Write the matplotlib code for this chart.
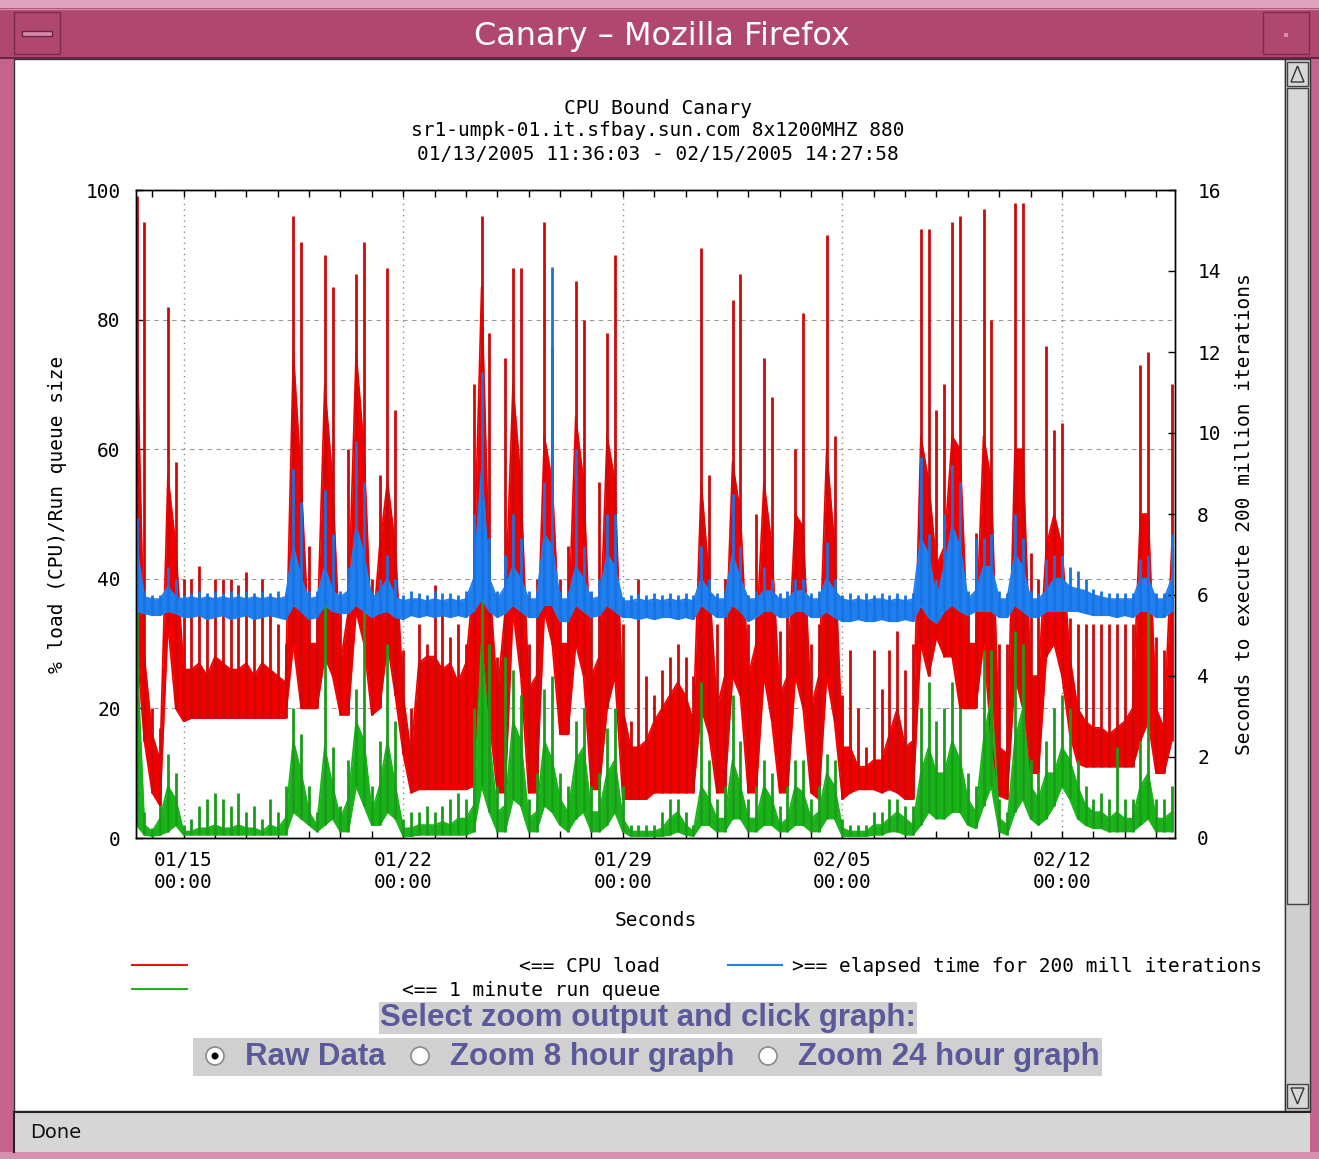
import numpy as np
import matplotlib.pyplot as plt
import matplotlib.dates as mdates
from matplotlib.patches import Rectangle, Circle, Polygon
from matplotlib.ticker import FixedLocator

plt.rcParams['font.family'] = 'DejaVu Sans Mono'
plt.rcParams['font.size'] = 14

# values in 6 hour bins, first bin centred on 01/13 12:00
# each series: bottom of the trace, top of the solid mass, highest spike

# CPU load (%)
cpu_low = [30, 15, 7, 5, 33, 20, 18, 18.5, 18.5, 18.5,
           18.5, 18.5, 18.5, 18.5, 18.5, 18.5, 18.5, 18.5, 18.5, 18.5,
           30, 20, 20, 20, 28, 25, 19, 19, 35, 30,
           19, 20, 30, 22, 13, 7, 7.5, 7.5, 7.5, 7.5,
           7.5, 7.5, 7.5, 8, 30, 18, 7, 7, 35, 25,
           7, 7, 35, 30, 16, 16, 30, 25, 7.5, 7.5,
           20, 25, 6, 6, 6, 6, 7, 7, 7, 7,
           7, 7, 20, 16, 7, 7, 25, 22, 7, 7,
           25, 18, 7, 7, 25, 20, 7, 6, 25, 18,
           6, 7, 7.5, 7.5, 7.5, 7, 7.5, 7, 6, 6,
           30, 25, 31, 28, 28, 20, 20, 20, 30, 15,
           6.5, 6, 25, 20, 10, 10, 28, 30, 25, 16,
           11.5, 11, 11, 11, 11, 11, 11, 11, 15, 18,
           10, 10, 15]
cpu_band = [80, 28, 16, 12, 56, 45, 26, 26, 27, 25,
            28, 27, 26, 26, 27, 25, 27, 26, 25, 24,
            75, 55, 30, 30, 70, 55, 27, 35, 75, 60,
            30, 45, 55, 45, 22, 13, 27, 28, 28, 26,
            27, 24, 27, 40, 85, 40, 22, 35, 70, 55,
            23, 25, 62, 55, 30, 30, 65, 55, 25, 28,
            62, 55, 20, 14, 14, 15, 18, 20, 22, 24,
            22, 18, 55, 40, 20, 25, 58, 50, 25, 30,
            55, 45, 22, 25, 50, 48, 20, 25, 60, 45,
            14, 14, 11, 11, 12, 12, 16, 20, 14, 15,
            62, 55, 42, 45, 62, 60, 30, 30, 62, 55,
            14, 13, 60, 60, 25, 25, 45, 50, 45, 28,
            20, 18, 17, 17, 16, 17, 18, 20, 50, 50,
            20, 17, 45]
cpu_peak = [99, 95, 20, 17, 82, 58, 40, 40, 42, 35,
            40, 40, 40, 39, 41, 36, 40, 36, 33, 30,
            96, 92, 45, 36, 90, 85, 35, 60, 87, 92,
            40, 56, 88, 66, 29, 20, 33, 30, 39, 35,
            31, 33, 30, 70, 96, 78, 28, 74, 88, 88,
            30, 40, 95, 76, 40, 45, 86, 80, 38, 55,
            78, 90, 33, 18, 40, 25, 22, 26, 28, 30,
            28, 25, 91, 56, 33, 40, 83, 87, 33, 50,
            74, 68, 32, 35, 60, 81, 30, 33, 93, 62,
            22, 29, 20, 14, 29, 23, 29, 32, 26, 30,
            94, 94, 66, 70, 95, 96, 36, 47, 97, 80,
            30, 30, 98, 98, 44, 40, 76, 63, 64, 34,
            33, 33, 33, 33, 33, 33, 33, 33, 73, 75,
            31, 29, 70]

# 1 minute run queue
queue_low = [2, 0.5, 0.3, 0.5, 1, 2, 0.5, 0.5, 0.5, 0.5,
             0.5, 0.5, 0.5, 0.5, 0.5, 0.5, 0.5, 0.5, 0.5, 0.5,
             4, 3, 2, 1, 2, 3, 1, 1, 8, 5,
             2, 2, 4, 3, 0.3, 0.3, 0.5, 0.5, 0.5, 0.5,
             0.5, 0.5, 0.5, 1, 8, 4, 1, 1, 6, 5,
             1, 1, 5, 4, 2, 1, 3, 4, 1, 1,
             2, 4, 1, 0.3, 0.3, 0.3, 0.3, 0.3, 0.5, 1,
             0.5, 0.3, 2, 2, 1, 1, 3, 3, 1, 1,
             2, 2, 1, 1, 2, 2, 1, 1, 3, 3,
             0.3, 0.3, 0.3, 0.3, 0.5, 0.5, 1, 1, 0.5, 0.5,
             2, 4, 3, 3, 4, 4, 2, 1.5, 5, 8,
             1, 0.5, 4, 6, 3, 2, 3, 5, 8, 6,
             3, 2, 1.5, 1.5, 1, 1, 1, 1, 2, 3,
             1, 1, 1]
queue_band = [30, 2, 1, 3, 8, 6, 1, 1, 1.5, 1.5,
              2, 1.5, 1.5, 2, 1.5, 1.5, 1, 2, 1.5, 3,
              15, 10, 4, 2, 14, 8, 3, 6, 18, 15,
              4, 8, 15, 8, 1.5, 1.5, 2, 2, 2, 2.5,
              2, 3, 3, 5, 30, 15, 4, 5, 18, 15,
              3, 4, 15, 12, 6, 4, 12, 14, 4, 4,
              10, 12, 3, 1, 1, 1, 1, 1.5, 3, 4,
              2, 1, 8, 6, 3, 3, 12, 8, 3, 3,
              8, 6, 2, 3, 8, 7, 3, 4, 10, 8,
              1.5, 1, 1, 1, 2, 2, 3, 4, 3, 2,
              10, 14, 10, 10, 15, 12, 6, 4, 15, 22,
              3, 2, 15, 20, 8, 6, 10, 10, 14, 12,
              8, 5, 4, 4, 3, 4, 3, 3, 8, 10,
              3, 3, 4]
queue_peak = [37, 4, 1.5, 5, 13, 10, 2, 3, 5, 6,
              7, 6, 5, 7, 4, 5, 3, 6, 4, 8,
              20, 16, 8, 4, 37, 14, 5, 12, 23, 37,
              8, 15, 30, 18, 3, 4, 4, 5, 4, 5,
              6, 7, 6, 20, 37, 30, 8, 28, 26, 22,
              6, 10, 23, 25, 10, 8, 18, 20, 8, 10,
              17, 20, 8, 2, 2, 2, 2, 4, 6, 6,
              4, 2, 24, 12, 6, 8, 22, 15, 6, 8,
              12, 10, 5, 8, 12, 12, 6, 8, 13, 12,
              3, 2, 2, 2, 4, 4, 6, 6, 5, 5,
              20, 24, 18, 20, 24, 20, 10, 8, 29, 29,
              6, 4, 32, 30, 12, 10, 15, 20, 22, 20,
              12, 8, 6, 7, 6, 14, 6, 6, 15, 36,
              6, 6, 8]

# seconds for 200 million iterations
elapsed_low = [5.6, 5.55, 5.5, 5.5, 5.6, 5.55, 5.45, 5.45, 5.5, 5.4,
               5.45, 5.5, 5.4, 5.45, 5.5, 5.4, 5.45, 5.5, 5.45, 5.4,
               5.75, 5.6, 5.4, 5.45, 5.75, 5.6, 5.55, 5.55, 5.75, 5.6,
               5.45, 5.55, 5.6, 5.45, 5.4, 5.5, 5.45, 5.5, 5.45, 5.5,
               5.45, 5.5, 5.45, 5.6, 5.9, 5.6, 5.45, 5.55, 5.75, 5.6,
               5.45, 5.45, 5.75, 5.75, 5.35, 5.35, 5.75, 5.6, 5.45, 5.5,
               5.75, 5.6, 5.45, 5.45, 5.4, 5.45, 5.4, 5.45, 5.45, 5.4,
               5.45, 5.4, 5.75, 5.6, 5.45, 5.45, 5.75, 5.6, 5.35, 5.45,
               5.6, 5.6, 5.45, 5.45, 5.6, 5.6, 5.45, 5.45, 5.6, 5.45,
               5.35, 5.35, 5.4, 5.35, 5.35, 5.4, 5.35, 5.35, 5.4, 5.35,
               5.75, 5.45, 5.3, 5.6, 5.75, 5.6, 5.5, 5.6, 5.6, 5.6,
               5.45, 5.45, 5.75, 5.6, 5.45, 5.45, 5.6, 5.6, 5.6, 5.6,
               5.6, 5.55, 5.5, 5.5, 5.5, 5.45, 5.5, 5.45, 5.6, 5.6,
               5.45, 5.45, 5.6]
elapsed_band = [7.2, 5.95, 5.9, 5.9, 6.2, 5.95, 5.9, 5.95, 5.9, 5.95,
                5.9, 5.95, 5.9, 5.95, 5.9, 5.95, 5.9, 5.95, 5.9, 5.95,
                7.2, 6.4, 5.9, 5.95, 6.7, 6.1, 5.95, 6.1, 7.7, 7.0,
                5.9, 6.1, 6.4, 5.95, 5.85, 5.9, 5.9, 5.85, 5.9, 5.85,
                5.9, 5.85, 5.9, 6.4, 9.1, 6.4, 5.9, 6.2, 6.7, 6.4,
                5.9, 5.9, 7.5, 7.2, 5.9, 5.9, 6.7, 6.4, 5.9, 5.95,
                7.0, 6.7, 5.85, 5.85, 5.9, 5.85, 5.9, 5.85, 5.9, 5.85,
                5.9, 5.85, 6.4, 6.1, 5.9, 5.9, 7.0, 6.4, 5.9, 5.9,
                6.1, 6.1, 5.9, 5.9, 6.1, 6.1, 5.9, 5.9, 6.4, 6.1,
                5.9, 5.85, 5.9, 5.85, 5.9, 5.9, 5.85, 5.9, 5.85, 5.9,
                7.4, 7.0, 5.9, 6.7, 7.7, 7.2, 5.9, 6.1, 6.7, 6.7,
                5.9, 5.9, 7.0, 6.7, 5.9, 5.9, 6.1, 6.4, 6.4, 6.2,
                6.15, 6.1, 6.0, 5.95, 5.9, 5.9, 5.9, 5.9, 6.4, 6.4,
                5.9, 5.9, 6.4]
elapsed_peak = [7.9, 6.1, 6.0, 6.0, 6.7, 6.4, 6.0, 6.05, 6.1, 6.05,
                6.1, 6.05, 6.1, 6.05, 6.1, 6.05, 6.1, 6.05, 6.1, 6.05,
                9.1, 8.3, 6.1, 6.1, 8.6, 7.5, 6.1, 6.7, 9.8, 8.8,
                6.1, 6.4, 7.0, 6.4, 6.0, 6.1, 6.05, 6.0, 6.1, 6.05,
                6.05, 6.0, 6.1, 8.0, 11.5, 7.4, 6.1, 7.0, 8.0, 7.4,
                6.1, 6.1, 8.8, 14.1, 6.1, 6.1, 9.6, 7.2, 6.1, 6.4,
                8.0, 8.0, 5.95, 6.0, 6.05, 6.0, 6.05, 6.0, 6.05, 6.0,
                6.05, 6.0, 7.2, 6.4, 6.05, 6.1, 8.5, 7.2, 6.0, 6.1,
                6.7, 6.4, 6.05, 6.1, 6.4, 6.4, 6.05, 6.1, 7.3, 6.4,
                6.0, 6.05, 6.0, 6.05, 6.0, 6.05, 6.0, 6.05, 6.0, 6.05,
                9.4, 7.5, 6.4, 8.0, 9.2, 8.8, 6.1, 7.4, 7.4, 7.5,
                6.1, 6.05, 8.0, 7.4, 6.1, 6.05, 6.9, 7.0, 7.0, 6.7,
                6.6, 6.4, 6.15, 6.1, 6.05, 6.05, 6.05, 6.05, 6.9, 7.0,
                6.05, 6.05, 7.5]

t = np.datetime64('2005-01-13T12:00') + np.arange(len(cpu_low)) * np.timedelta64(6, 'h')
week_ticks = ['2005-01-15', '2005-01-22', '2005-01-29', '2005-02-05', '2005-02-12']

W, H = 1319, 1159
fig = plt.figure(figsize=(W / 100, H / 100), dpi=100)
fig.patch.set_facecolor('#c4648e')

# browser window drawn in pixel coordinates
bg = fig.add_axes([0, 0, 1, 1], zorder=-1)
bg.set_xlim(0, W)
bg.set_ylim(H, 0)
bg.axis('off')
bg.add_patch(Rectangle((0, 0), W, 8, fc='#e0a4c0', ec='none'))
bg.add_patch(Rectangle((0, 8), W, 50, fc='#b0476f', ec='none'))
bg.plot([0, W], [9, 9], color='#d88aac', lw=1)
bg.plot([0, W], [58, 58], color='#6e2444', lw=1.5)
for bx in (14, 1263):
    bg.add_patch(Rectangle((bx, 12), 46, 42, fc='#b0476f', ec='#7c2c50', lw=1))
bg.add_patch(Rectangle((22, 31), 30, 5, fc='#d88aac', ec='#6e2444', lw=1))
bg.add_patch(Rectangle((1284, 33), 4, 4, fc='#d88aac', ec='none'))
bg.text(662, 36, 'Canary \u2013 Mozilla Firefox', color='white', ha='center', va='center',
        family='DejaVu Sans', fontsize=23)

bg.add_patch(Rectangle((14, 59), 1271, 1052, fc='white', ec='#333333', lw=1))
bg.add_patch(Rectangle((1285, 59), 25, 1052, fc='#cfcfcf', ec='#333333', lw=1))
bg.add_patch(Rectangle((1287, 62), 21, 24, fc='#d8d8d8', ec='#444444', lw=1))
bg.add_patch(Polygon([(1291, 82), (1297.5, 66), (1304, 82)], closed=True, fc='none', ec='#333333', lw=1))
bg.add_patch(Rectangle((1287, 88), 21, 816, fc='#d8d8d8', ec='#444444', lw=1))
bg.add_patch(Rectangle((1287, 1084), 21, 24, fc='#d8d8d8', ec='#444444', lw=1))
bg.add_patch(Polygon([(1291, 1088), (1297.5, 1104), (1304, 1088)], closed=True, fc='none', ec='#333333', lw=1))

bg.add_patch(Rectangle((14, 1112), 1296, 40, fc='#d6d6d6', ec='none'))
bg.plot([14, 1310], [1112, 1112], color='#222222', lw=1.5)
bg.plot([14, 14], [1112, 1152], color='#222222', lw=1.5)
bg.add_patch(Rectangle((0, 1152), W, 7, fc='#d890b0', ec='none'))
bg.text(30, 1133, 'Done', ha='left', va='center', family='DejaVu Sans', fontsize=14, color='#111111')

# chart titles
for y, line in [(108, 'CPU Bound Canary'),
                (131, 'sr1-umpk-01.it.sfbay.sun.com 8x1200MHZ 880'),
                (155, '01/13/2005 11:36:03 - 02/15/2005 14:27:58')]:
    bg.text(658, y, line, ha='center', va='center')

# legend
bg.plot([132, 187], [965, 965], color='#ee1010', lw=1.5)
bg.plot([132, 187], [989, 989], color='#20b020', lw=1.5)
bg.plot([728, 782], [965, 965], color='#2080e8', lw=1.5)
bg.text(660, 966, '<== CPU load', ha='right', va='center')
bg.text(660, 990, '<== 1 minute run queue', ha='right', va='center')
bg.text(792, 966, '>== elapsed time for 200 mill iterations', ha='left', va='center')

# zoom form
form = dict(family='Liberation Sans', fontweight='bold', fontsize=22.5, color='#5a5a9a')
bg.text(648, 1018, 'Select zoom output and click graph:', ha='center', va='center',
        bbox=dict(fc='#d0d0d0', ec='none', pad=1.0), **form)
bg.add_patch(Rectangle((193, 1038), 909, 38, fc='#d0d0d0', ec='none'))
for cx, tx, label in [(215, 245, 'Raw Data'), (420, 450, 'Zoom 8 hour graph'),
                      (768, 798, 'Zoom 24 hour graph')]:
    bg.add_patch(Circle((cx, 1056), 9, fc='white', ec='#8a8a8a', lw=1.2))
    bg.text(tx, 1057, label, ha='left', va='center', **form)
bg.add_patch(Circle((215, 1056), 3.5, fc='black', ec='none'))

# chart
ax = fig.add_axes([136 / W, 1 - 838 / H, 1039 / W, 648 / H])
ax.set_facecolor('white')
ax.set_axisbelow(True)


def draw(axis, low, mid, top, fill, edge):
    axis.fill_between(t, low, mid, color=fill, lw=0)
    axis.plot(t, low, color=fill, lw=1.2)
    axis.plot(t, mid, color=fill, lw=1.2)
    axis.vlines(t, low, top, color=edge, lw=2)


draw(ax, cpu_low, cpu_band, cpu_peak, '#f20000', '#cc0a0a')
draw(ax, queue_low, queue_band, queue_peak, '#18b418', '#1c9c1c')

ax2 = ax.twinx()
draw(ax2, elapsed_low, elapsed_band, elapsed_peak, '#1e80f0', '#1a72e0')

ax.set_xlim(np.datetime64('2005-01-13T11:36:03'), np.datetime64('2005-02-15T14:27:58'))
ax.set_ylim(0, 100)
ax2.set_ylim(0, 16)
ax.set_yticks(range(0, 101, 20))
ax2.set_yticks(range(0, 17, 2))

ax.xaxis.set_major_locator(FixedLocator(mdates.date2num(np.array(week_ticks, dtype='datetime64[s]'))))
ax.xaxis.set_major_formatter(mdates.DateFormatter('%m/%d\n%H:%M'))
ax.xaxis.set_minor_locator(mdates.DayLocator())

ax.tick_params(axis='x', which='both', direction='in', top=True, length=5, width=1, pad=9)
ax.tick_params(axis='y', direction='in', length=5, width=1, pad=11)
ax2.tick_params(axis='y', direction='in', length=5, width=1, pad=16)

ax.grid(axis='x', which='major', color='#8c8c8c', linestyle=(0, (1, 3)), lw=1)
ax.grid(axis='y', which='major', color='#9a9a9a', linestyle=(0, (4, 4)), lw=0.8)

ax.set_xlabel('Seconds')
ax.xaxis.set_label_coords(0.5, -0.113)
ax.set_ylabel('% load (CPU)/Run queue size')
ax.yaxis.set_label_coords(-0.066, 0.5)
ax2.set_ylabel('Seconds to execute 200 million iterations')
ax2.yaxis.set_label_coords(1.058, 0.5)

for a in (ax, ax2):
    for s in a.spines.values():
        s.set_color('black')
        s.set_linewidth(1)

fig.savefig('out.png', dpi=100, facecolor=fig.get_facecolor())
